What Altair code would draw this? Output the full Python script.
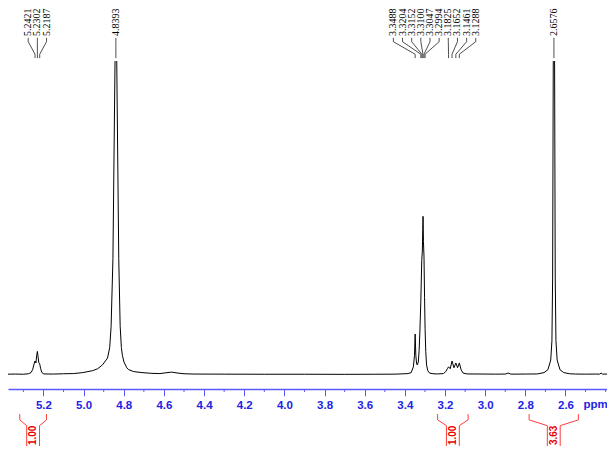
import altair as alt
import pandas as pd

# ---------------- data ----------------
spec_ppm = [5.40, 5.34, 5.30, 5.275, 5.262, 5.254, 5.2466, 5.2421, 5.2375, 5.2335, 5.2302, 5.2265,
            5.2230, 5.2187, 5.2140, 5.2075, 5.198, 5.15, 5.10, 5.05, 5.004, 4.955, 4.930, 4.906,
            4.881, 4.870, 4.863, 4.854, 4.8433, 4.8393, 4.8353, 4.825, 4.818, 4.812, 4.807, 4.799,
            4.785, 4.775, 4.75, 4.709, 4.66, 4.62, 4.59, 4.562, 4.53, 4.50, 4.45, 4.3, 4.1, 3.9,
            3.7, 3.55, 3.45, 3.40, 3.3845, 3.3684, 3.3576, 3.3520, 3.3488, 3.3455, 3.3415, 3.3380,
            3.3330, 3.3290, 3.3256, 3.3207, 3.3160, 3.3130, 3.3110, 3.3095, 3.3075, 3.3047, 3.3020,
            3.2994, 3.2960, 3.2920, 3.2860, 3.2770, 3.2600, 3.2374, 3.2078, 3.1965, 3.1880, 3.1825,
            3.1740, 3.1652, 3.1555, 3.1461, 3.1375, 3.1288, 3.1200, 3.1100, 3.0900, 3.0, 2.95, 2.90,
            2.885, 2.872, 2.80, 2.74, 2.707, 2.6876, 2.6736, 2.6676, 2.6641, 2.6608, 2.6576, 2.6544,
            2.6511, 2.6476, 2.6416, 2.6276, 2.6086, 2.58, 2.55, 2.50, 2.45, 2.43, 2.4226, 2.415,
            2.39, 2.37]
spec_int = [0.3, 0.5, 0.3, 0.8, 2, 5, 11, 14, 12, 20, 24, 18,
            12, 11, 6, 2, 0.6, 0.5, 0.8, 1, 2, 4, 6, 10,
            17, 28, 50, 120, 330, 800, 330, 120, 50, 28, 20, 13,
            7, 5, 3, 2, 1.2, 1, 1.8, 2.5, 1.5, 0.8, 0.5, 0.4, 0.3, 0.3,
            0.2, 0.3, 0.4, 0.8, 1, 2, 8, 20, 42, 20, 11, 10,
            13, 25, 42, 75, 118, 128, 150, 164, 138, 122, 80,
            48, 24, 10, 4, 1.5, 0.8, 0.6, 1, 3, 6, 8,
            6, 14, 7, 12, 7, 12, 5, 1.5, 0.6, 0.5, 0.4, 0.5,
            1.5, 0.4, 0.5, 0.6, 2, 5, 15, 35, 100, 330, 800, 330,
            100, 35, 15, 5, 2, 0.8, 0.5, 0.4, 0.5, 0.4, 1.5, 0.4,
            0.5, 0.5]

peak_labels = [5.2421, 5.2302, 5.2187, 4.8393, 3.3488, 3.3204, 3.3152, 3.3100, 3.3047,
               3.2994, 3.1825, 3.1652, 3.1461, 3.1288, 2.6576]

integral_start = [5.318, 3.237, 2.781]
integral_end = [5.185, 3.085, 2.536]
integral_values = ["1.00", "1.00", "3.63"]

major_ticks = [5.4, 5.2, 5.0, 4.8, 4.6, 4.4, 4.2, 4.0, 3.8, 3.6, 3.4, 3.2, 3.0, 2.8, 2.6]
minor_ticks = [5.3, 5.1, 4.9, 4.7, 4.5, 4.3, 4.1, 3.9, 3.7, 3.5, 3.3, 3.1, 2.9, 2.7, 2.5, 2.4]
axis_unit = "ppm"

# ---------------- layout / style ----------------
W, H = 599, 328
PAD_T, PAD_B = 53, 57
X_LO, X_HI = 2.3933, 5.3766
Y_LO, Y_HI = -15, 325
BLUE_LINE = "#5a5aff"
BLUE_TEXT = "#2323e6"
RED_LINE = "#ff3c3c"
RED_TEXT = "#e60000"
SLOT = 0.0456          # label slot width in ppm
INNER = 0.032          # half gap of integral label frame in ppm

xscale = alt.Scale(domain=[X_LO, X_HI], reverse=True, nice=False, zero=False)
yscale = alt.Scale(domain=[Y_LO, Y_HI], nice=False, zero=False)
xaxis = alt.Axis(values=major_ticks, format=".1f", title=None, grid=False,
                 tickSize=6.8, tickColor=BLUE_LINE, tickWidth=1,
                 domainColor=BLUE_LINE, domainWidth=1.5,
                 labelFont="Liberation Sans", labelFontSize=11.5, labelFontWeight="bold",
                 labelColor=BLUE_TEXT, labelPadding=3.4, labelOverlap=False, labelFlush=False)


def X(field="ppm"):
    return alt.X(f"{field}:Q", scale=xscale, axis=xaxis)


def Y(field="y"):
    return alt.Y(f"{field}:Q", scale=yscale, axis=None)


# ---- spectrum
spec_df = pd.DataFrame({"ppm": spec_ppm, "y": spec_int, "idx": range(len(spec_ppm))})
spectrum = alt.Chart(spec_df).mark_line(color="black", strokeWidth=1, clip=True).encode(
    x=X(), y=Y(), order="idx:Q")

# ---- peak label placement (spread labels of crowded peaks into slots)
peaks = sorted(peak_labels, reverse=True)
clusters = [[p] for p in peaks]


def span(c):
    m = sum(c) / len(c)
    half = len(c) * SLOT / 2
    return m + half, m - half


merged = True
while merged:
    merged = False
    for i in range(len(clusters) - 1):
        hi1, lo1 = span(clusters[i])
        hi2, lo2 = span(clusters[i + 1])
        if lo1 < hi2:
            clusters[i] = clusters[i] + clusters[i + 1]
            del clusters[i + 1]
            merged = True
            break

label_rows, conn_rows = [], []
for c in clusters:
    m = sum(c) / len(c)
    n = len(c)
    for k, p in enumerate(c):
        slot = m + (n - 1) / 2 * SLOT - k * SLOT
        lab = f"{p:.4f}"
        label_rows.append({"ppm": slot, "y": 351, "text": lab})
        for j, (xx, yy) in enumerate([(slot, 349), (slot, 345), (p, 332), (p, 328)]):
            conn_rows.append({"ppm": xx, "y": yy, "label": lab, "k": j})

labels = alt.Chart(pd.DataFrame(label_rows)).mark_text(
    angle=270, align="left", baseline="middle", font="Liberation Serif",
    fontSize=10, color="black").encode(x=X(), y=Y(), text="text:N")
connectors = alt.Chart(pd.DataFrame(conn_rows)).mark_line(
    color="#222222", strokeWidth=0.8).encode(x=X(), y=Y(), detail="label:N", order="k:Q")

# ---- integrals
br_rows, int_rows = [], []
for i, (a, b, v) in enumerate(zip(integral_start, integral_end, integral_values)):
    mid = (a + b) / 2
    int_rows.append({"ppm": mid, "y": -63, "text": v})
    for side, (outer, inner) in enumerate([(a, mid + INNER), (b, mid - INNER)]):
        for j, (xx, yy) in enumerate([(outer, -41), (outer, -47), (inner, -53), (inner, -110)]):
            br_rows.append({"ppm": xx, "y": yy, "grp": f"{i}-{side}", "k": j})

brackets = alt.Chart(pd.DataFrame(br_rows)).mark_line(
    color=RED_LINE, strokeWidth=1).encode(x=X(), y=Y(), detail="grp:N", order="k:Q")
int_text = alt.Chart(pd.DataFrame(int_rows)).mark_text(
    angle=270, align="center", baseline="middle", font="Liberation Sans",
    fontSize=10, fontWeight="bold", color=RED_TEXT).encode(x=X(), y=Y(), text="text:N")

# ---- minor ticks and unit label
minor = alt.Chart(pd.DataFrame({"ppm": minor_ticks})).mark_rule(
    color=BLUE_LINE, strokeWidth=1).encode(x=X(), y=alt.value(H), y2=alt.value(H + 3))
unit = alt.Chart(pd.DataFrame({"ppm": [2.45], "y": [-35], "text": [axis_unit]})).mark_text(
    align="center", baseline="alphabetic", font="Liberation Sans", fontSize=11.5,
    fontWeight="bold", color=BLUE_TEXT).encode(x=X(), y=Y(), text="text:N")

chart = alt.layer(spectrum, connectors, labels, brackets, int_text, minor, unit).properties(
    width=W, height=H,
    padding={"left": 0, "right": 0, "top": PAD_T, "bottom": PAD_B},
    autosize=alt.AutoSizeParams(type="none"),
    background="white",
).configure_view(stroke=None)

chart.save("out.html", embed_options={"renderer": "svg", "actions": False})
